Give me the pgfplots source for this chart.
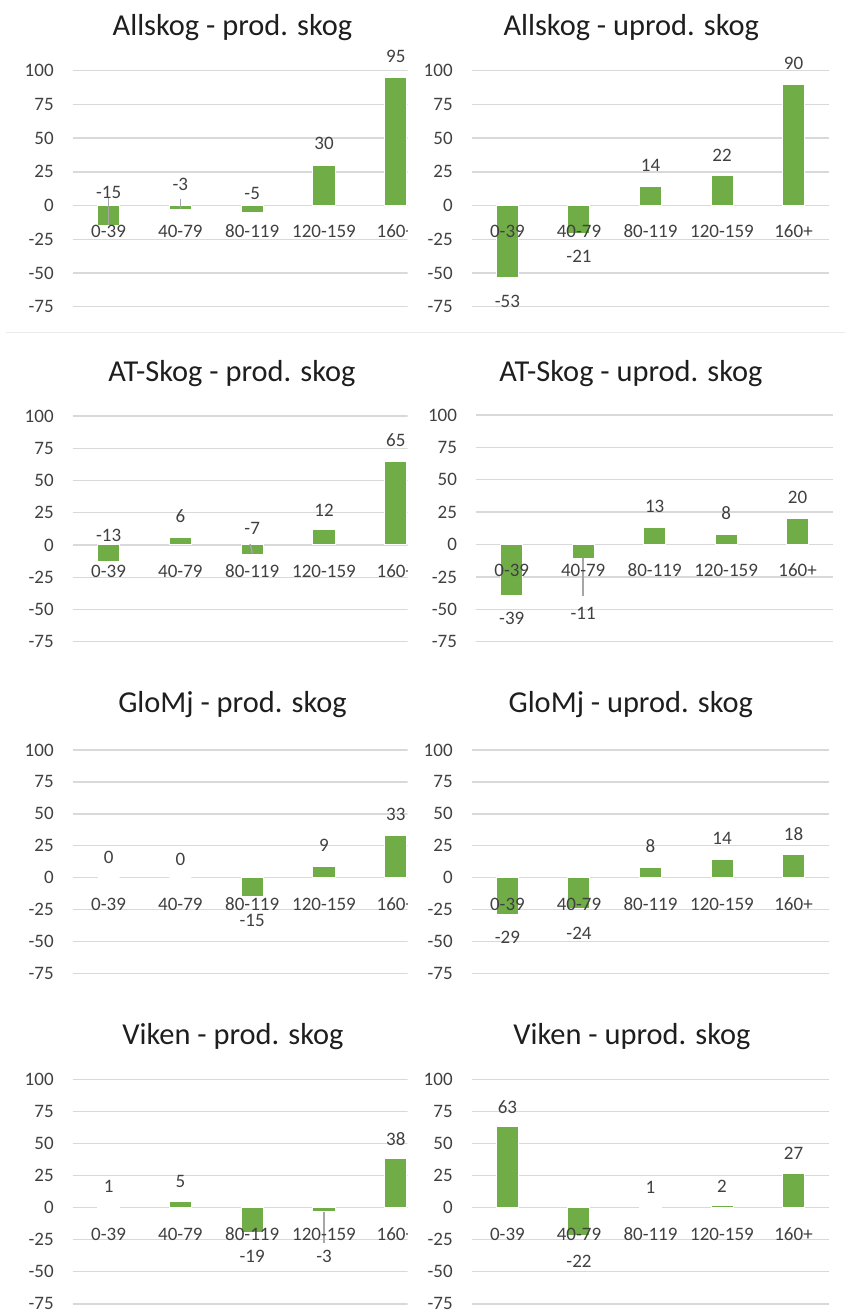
\documentclass[border=0pt]{standalone}
\usepackage{fontspec}
\setmainfont{Carlito}
\usepackage{pgfplots}
\usepackage{pgfplotstable}
\pgfplotsset{compat=1.18}

\definecolor{barc}{HTML}{70AD47}
\definecolor{gridc}{HTML}{D9D9D9}
\definecolor{labc}{HTML}{404040}
\definecolor{titc}{HTML}{1E1E1E}
\definecolor{leadc}{HTML}{A6A6A6}
\definecolor{sepc}{HTML}{EAEAEA}

% age classes, set just below the zero line
\pgfplotstableread{
x y n
0 0 0-39
1 0 40-79
2 0 80-119
3 0 120-159
4 0 160+
}\cats

% columns: category index, value, vertical position of the value label
\pgfplotstableread{
x v ly
0 -15 9.9
1 -3 15.4
2 -5 9.2
3 30 45.8
4 95 110.5
}\allprod
\pgfplotstableread{
x v ly
0 -53 -71.2
1 -21 -37.8
2 14 29.7
3 22 36.9
4 90 105.6
}\alluprod
\pgfplotstableread{
x v ly
0 -13 7.8
1 6 22.7
2 -7 12.9
3 12 27.1
4 65 80.9
}\atprod
\pgfplotstableread{
x v ly
0 -39 -56.8
1 -11 -53
2 13 29.7
3 8 24.6
4 20 36.7
}\atuprod
\pgfplotstableread{
x v ly
0 0 15.7
1 0 14.1
2 -15 -33.5
3 9 25.3
4 33 49.6
}\glprod
\pgfplotstableread{
x v ly
0 -29 -46.5
1 -24 -43.4
2 8 24.5
3 14 31.1
4 18 34.5
}\gluprod
\pgfplotstableread{
x v ly
0 1 16.9
1 5 20.8
2 -19 -38.2
3 -3 -38.2
4 38 53.3
}\viprod
\pgfplotstableread{
x v ly
0 63 78.8
1 -22 -41.7
2 1 16.1
3 2 16.9
4 27 42.4
}\viuprod

\pgfplotsset{
  panel/.style={
    scale only axis,
    anchor=south west,
    xmin=-0.5, xmax=4.5,
    ymin=-75, ymax=100,
    ytick={-75,-50,-25,0,25,50,75,100},
    xtick=\empty,
    ytick pos=left,
    axis line style={draw=none},
    major tick length=0pt,
    ymajorgrids, grid style={gridc, line width=0.7pt},
    /pgf/number format/assume math mode=true,
    tick label style={font=\fontsize{9.5}{11}\selectfont, text=labc},
    yticklabel style={xshift=-6pt},
    clip=false,
  },
  bars/.style={ybar, bar width=11pt, fill=barc, draw=white, line width=0.5pt},
  vals/.style={draw=none, mark=none, nodes near coords,
    point meta=explicit symbolic,
    every node near coord/.append style={anchor=center,
      font=\fontsize{9.5}{11}\selectfont, text=labc}},
  catnames/.style={draw=none, mark=none, nodes near coords,
    point meta=explicit symbolic,
    every node near coord/.append style={anchor=base, yshift=-16.2pt,
      font=\fontsize{9.5}{11}\selectfont, text=labc}},
  leader/.style={leadc, line width=0.7pt},
}

\newcommand\paneltitle[3]{%
  \node[anchor=base, text=titc, font=\fontsize{15.2}{17}\selectfont] at (#1pt,#2pt) {#3};}

\begin{document}
\begin{tikzpicture}
\path[use as bounding box] (0,0) rectangle (422.5pt,-656pt);

% separator below the first row
\draw[sepc, line width=0.6pt] (2.85pt,-166.15pt) -- (422.5pt,-166.15pt);

% titles
\paneltitle{116.25}{-17.5}{Allskog - prod. skog}
\paneltitle{315.65}{-17.5}{Allskog - uprod. skog}
\paneltitle{116}{-190.6}{AT-Skog - prod. skog}
\paneltitle{315.5}{-190.6}{AT-Skog - uprod. skog}
\paneltitle{116.25}{-356.35}{GloMj - prod. skog}
\paneltitle{315.4}{-356.35}{GloMj - uprod. skog}
\paneltitle{116.5}{-522}{Viken - prod. skog}
\paneltitle{316}{-522}{Viken - uprod. skog}

% left column, cut off at the right edge
\begin{scope}
\clip (0pt,0pt) rectangle (203.75pt,-656pt);

\begin{axis}[panel, at={(36.35pt,-153.35pt)}, width=179.5pt, height=118pt]
\addplot[bars] table[x=x, y=v] {\allprod};
\addplot[leader] coordinates {(0,5.5) (0,-14.3)};
\addplot[leader] coordinates {(1,4.7) (1,-2.7)};
\addplot[catnames] table[x=x, y=y, meta=n] {\cats};
\addplot[vals] table[x=x, y=ly, meta=v] {\allprod};
\end{axis}

\begin{axis}[panel, at={(36.35pt,-320.85pt)}, width=179.5pt, height=112.85pt]
\addplot[bars] table[x=x, y=v] {\atprod};
\addplot[leader] coordinates {(1.97,0.8) (2.005,-6.4)};
\addplot[catnames] table[x=x, y=y, meta=n] {\cats};
\addplot[vals] table[x=x, y=ly, meta=v] {\atprod};
\end{axis}

\begin{axis}[panel, at={(36.35pt,-486.65pt)}, width=179.5pt, height=111.65pt]
\addplot[bars] table[x=x, y=v] {\glprod};
\addplot[catnames] table[x=x, y=y, meta=n] {\cats};
\addplot[vals] table[x=x, y=ly, meta=v] {\glprod};
\end{axis}

\begin{axis}[panel, at={(36.35pt,-651.9pt)}, width=179.5pt, height=112.15pt]
\addplot[bars] table[x=x, y=v] {\viprod};
\addplot[leader] coordinates {(3,-3.4) (3,-27.3)};
\addplot[catnames] table[x=x, y=y, meta=n] {\cats};
\addplot[vals] table[x=x, y=ly, meta=v] {\viprod};
\end{axis}
\end{scope}

% right column
\begin{axis}[panel, at={(235.85pt,-153.35pt)}, width=178.8pt, height=118pt]
\addplot[bars] table[x=x, y=v] {\alluprod};
\addplot[catnames] table[x=x, y=y, meta=n] {\cats};
\addplot[vals] table[x=x, y=ly, meta=v] {\alluprod};
\end{axis}

\begin{axis}[panel, at={(238pt,-320.85pt)}, width=178.65pt, height=113.35pt]
\addplot[bars] table[x=x, y=v] {\atuprod};
\addplot[leader] coordinates {(1,-10.5) (1,-40)};
\addplot[catnames] table[x=x, y=y, meta=n] {\cats};
\addplot[vals] table[x=x, y=ly, meta=v] {\atuprod};
\end{axis}

\begin{axis}[panel, at={(235.85pt,-486.65pt)}, width=178.8pt, height=111.65pt]
\addplot[bars] table[x=x, y=v] {\gluprod};
\addplot[catnames] table[x=x, y=y, meta=n] {\cats};
\addplot[vals] table[x=x, y=ly, meta=v] {\gluprod};
\end{axis}

\begin{axis}[panel, at={(235.85pt,-651.9pt)}, width=178.8pt, height=112.15pt]
\addplot[bars] table[x=x, y=v] {\viuprod};
\addplot[catnames] table[x=x, y=y, meta=n] {\cats};
\addplot[vals] table[x=x, y=ly, meta=v] {\viuprod};
\end{axis}

\end{tikzpicture}
\end{document}
